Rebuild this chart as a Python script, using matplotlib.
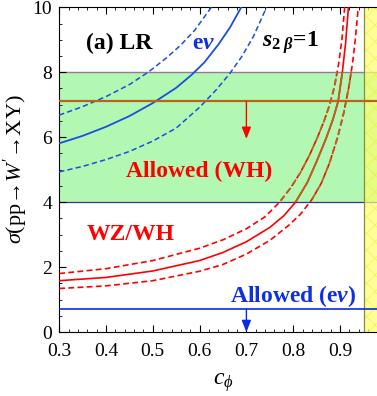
import matplotlib
matplotlib.use("Agg")
import matplotlib.pyplot as plt
from matplotlib.patches import Rectangle

plt.rcParams['font.family'] = ['Liberation Serif', 'DejaVu Serif']
plt.rcParams['mathtext.fontset'] = 'custom'
plt.rcParams['mathtext.rm'] = 'Liberation Serif'
plt.rcParams['mathtext.it'] = 'Liberation Serif:italic'
plt.rcParams['mathtext.bf'] = 'Liberation Serif:bold'
plt.rcParams['mathtext.sf'] = 'Liberation Serif:italic:bold'
plt.rcParams['hatch.linewidth'] = 0.6

# W' -> e nu cross section (central value and band)
c_en = [0.30, 0.35, 0.40, 0.45, 0.50, 0.55, 0.583, 0.61, 0.64, 0.665, 0.689]
s_en = [5.81, 6.04, 6.32, 6.65, 7.05, 7.52, 7.92, 8.30, 8.85, 9.38, 10.0]
c_en_hi = [0.30, 0.35, 0.40, 0.45, 0.49, 0.53, 0.56, 0.59, 0.625]
s_en_hi = [6.68, 6.94, 7.25, 7.62, 8.00, 8.45, 8.84, 9.30, 10.0]
c_en_lo = [0.30, 0.35, 0.40, 0.45, 0.50, 0.55, 0.60, 0.635, 0.664, 0.69, 0.715, 0.743]
s_en_lo = [4.93, 5.10, 5.31, 5.56, 5.88, 6.28, 6.92, 7.45, 7.95, 8.48, 9.10, 10.0]

# W' -> WZ/WH cross section
c_wz = [0.30, 0.40, 0.50, 0.60, 0.65, 0.70, 0.75, 0.78, 0.805, 0.83, 0.85,
        0.87, 0.885, 0.896, 0.905, 0.912, 0.918]
s_wz = [1.58, 1.68, 1.88, 2.20, 2.45, 2.78, 3.22, 3.58, 4.00, 4.60, 5.25,
        5.95, 6.55, 7.10, 8.00, 8.90, 10.0]
c_wz_hi = [0.30, 0.40, 0.50, 0.60, 0.65, 0.70, 0.74, 0.771, 0.795, 0.815,
           0.835, 0.852, 0.866, 0.878, 0.888, 0.897, 0.904, 0.910]
s_wz_hi = [1.80, 1.95, 2.20, 2.58, 2.84, 3.18, 3.55, 4.00, 4.45, 4.90,
           5.45, 6.00, 6.50, 7.00, 7.55, 8.25, 9.00, 10.0]
c_wz_lo = [0.30, 0.40, 0.50, 0.60, 0.65, 0.70, 0.75, 0.79, 0.815, 0.84,
           0.86, 0.878, 0.895, 0.908, 0.919, 0.927, 0.933, 0.939]
s_wz_lo = [1.34, 1.42, 1.58, 1.87, 2.08, 2.40, 2.82, 3.28, 3.62, 4.08,
           4.58, 5.22, 6.00, 6.75, 7.55, 8.30, 9.05, 10.0]

# limits
wh_band = (4.0, 8.0)
wh_limit = 7.1
en_limit = 0.7
c_excl = 0.952
arrow_c = 0.7

blue = '#1a4fe0'
red = '#ff0000'
brown = '#b8641e'
text_blue = '#1030e0'

fig = plt.figure(figsize=(3.77, 3.96), dpi=100)
ax = fig.add_axes([0.157, 0.1616, 0.869, 0.82])
ax.set_xlim(0.3, 1.0)
ax.set_ylim(0, 10)

# allowed WH band
ax.axhspan(wh_band[0], wh_band[1], color='#b2f8b2', lw=0, zorder=0)
ax.axhline(wh_band[1], color='#a074a0', lw=1.0, zorder=1)
ax.axhline(wh_band[0], color='#3030a0', lw=0.9, zorder=1)

# excluded region at large c_phi
ax.axvspan(c_excl, 1.0, facecolor='#ffff70', alpha=0.7, edgecolor='#eeee40',
           hatch='xx', lw=0, zorder=2)
ax.axvline(c_excl, color='#8a8a40', lw=0.9, zorder=2)

clip = Rectangle((0.3, wh_band[0]), 0.7, wh_band[1] - wh_band[0],
                 transform=ax.transData)

dash = (0, (3.5, 2))
ax.plot(c_en, s_en, color=blue, lw=1.3, zorder=3)
ax.plot(c_en_hi, s_en_hi, color=blue, lw=1.1, ls=dash, zorder=3)
ax.plot(c_en_lo, s_en_lo, color=blue, lw=1.1, ls=dash, zorder=3)

# red outside the WH band, brownish inside it
for cc, ss, st in [(c_wz, s_wz, '-'), (c_wz_hi, s_wz_hi, dash), (c_wz_lo, s_wz_lo, dash)]:
    ax.plot(cc, ss, color=red, lw=1.2, ls=st, zorder=3)
    ln, = ax.plot(cc, ss, color=brown, lw=1.3, ls=st, zorder=4)
    ln.set_clip_path(clip)

# upper limits with arrows
ax.axhline(wh_limit, color=brown, lw=1.6, zorder=4)
ax.annotate('', xy=(arrow_c, 5.95), xytext=(arrow_c, wh_limit),
            arrowprops=dict(arrowstyle='-|>,head_length=0.5,head_width=0.2',
                            color=red, lw=1.0, mutation_scale=14,
                            shrinkA=0, shrinkB=0), zorder=5)
ax.axhline(en_limit, color='#0a28e6', lw=1.2, zorder=4)
ax.annotate('', xy=(arrow_c, 0.0), xytext=(arrow_c, en_limit),
            arrowprops=dict(arrowstyle='-|>,head_length=0.5,head_width=0.2',
                            color='#0a28e6', lw=1.0, mutation_scale=14,
                            shrinkA=0, shrinkB=0), zorder=5)

ax.text(0.357, 8.9, '(a) LR', fontsize=17, fontweight='bold', va='center')
ax.text(0.583, 8.9, r'e$\mathsf{\nu}$', fontsize=17, fontweight='bold',
        color=text_blue, va='center')
ax.text(0.733, 8.9, r'$\mathsf{s}_{\mathbf{2}\ \mathsf{\beta}}$=1', fontsize=17,
        fontweight='bold', va='center')
ax.text(0.600, 4.95, 'Allowed (WH)', fontsize=17, fontweight='bold', color=red,
        ha='center', va='center')
ax.text(0.452, 3.0, 'WZ/WH', fontsize=17, fontweight='bold', color=red,
        ha='center', va='center')
ax.text(0.800, 1.1, r'Allowed (e$\mathsf{\nu}$)', fontsize=17, fontweight='bold',
        color=text_blue, ha='center', va='center')

ax.set_xticks([0.3, 0.4, 0.5, 0.6, 0.7, 0.8, 0.9])
ax.set_xticks([0.3 + 0.02 * i for i in range(36)], minor=True)
ax.set_yticks([0, 2, 4, 6, 8, 10])
ax.set_yticks([0.5 * i for i in range(21)], minor=True)
ax.tick_params(which='both', direction='in', top=True, labelsize=14)
ax.tick_params(axis='x', pad=8)
ax.tick_params(axis='y', pad=5)
ax.tick_params(which='major', length=5, width=0.8)
ax.tick_params(which='minor', length=2.5, width=0.6)
ax.spines['right'].set_visible(False)

ax.set_xlabel(r'$c_\phi$', fontsize=17, labelpad=8)
ax.set_ylabel(r'$\sigma$(pp→$W^{\prime}$→XY)', fontsize=16, labelpad=2)

fig.savefig('out.png', dpi=100)
